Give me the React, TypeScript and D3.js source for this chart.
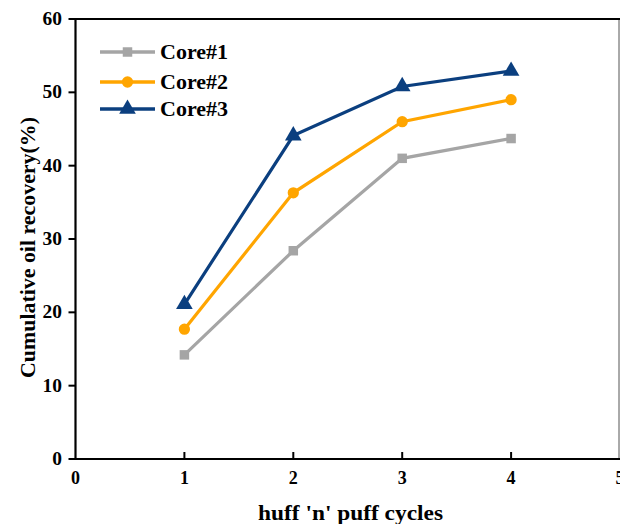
import React from "react";
import * as d3 from "d3";

const cycles = [1, 2, 3, 4];
const seriesNames = ["Core#1", "Core#2", "Core#3"];
const core1 = [14.2, 28.4, 41.0, 43.7];
const core2 = [17.7, 36.3, 46.0, 49.0];
const core3 = [21.1, 44.1, 50.8, 52.9];
const xTicks = [0, 1, 2, 3, 4, 5];
const yTicks = [0, 10, 20, 30, 40, 50, 60];

const colors = ["#a5a5a5", "#ffa500", "#0b3f7f"];
const symbols = [d3.symbolSquare, d3.symbolCircle, d3.symbolTriangle];
const symSizes = [90, 100, 120];

export default function App() {
  const W = 620, H = 524;
  const left = 75.5, right = 620, top = 19, bottom = 459;
  const x = d3.scaleLinear().domain([0, 5]).range([left, right]);
  const y = d3.scaleLinear().domain([0, 60]).range([bottom, top]);
  const data = [core1, core2, core3];
  const line = d3
    .line<number>()
    .x((_, i) => x(cycles[i]))
    .y((d) => y(d));
  const font = "'Liberation Serif', 'Times New Roman', serif";
  return (
    <svg
      width={W}
      height={H}
      style={{ position: "absolute", left: 0, top: 0, background: "#fff" }}
      fontFamily={font}
    >
      {/* frame */}
      <line x1={right - 1} x2={right - 1} y1={top} y2={bottom} stroke="#555" strokeWidth={1} />
      <line x1={left} x2={right} y1={top} y2={top} stroke="#000" strokeWidth={2.2} />
      <line x1={left} x2={left} y1={top - 1} y2={bottom + 1} stroke="#000" strokeWidth={2.2} />
      <line x1={left} x2={right} y1={bottom} y2={bottom} stroke="#000" strokeWidth={2.2} />
      {yTicks.map((t) => (
        <g key={"y" + t}>
          <line x1={left - 7} x2={left} y1={y(t)} y2={y(t)} stroke="#000" strokeWidth={2} />
          <text
            x={62}
            y={y(t) + 6}
            textAnchor="end"
            fontSize={18}
            fontWeight="bold"
            transform={`translate(${62},0) scale(1.08,1) translate(${-62},0)`}
          >
            {t}
          </text>
        </g>
      ))}
      {xTicks.map((t) => (
        <g key={"x" + t}>
          {t > 0 && t < 5 && (
            <line x1={x(t)} x2={x(t)} y1={bottom} y2={bottom - 7} stroke="#000" strokeWidth={2} />
          )}
          <text
            x={x(t)}
            y={484}
            textAnchor="middle"
            fontSize={18}
            fontWeight="bold"
          >
            {t}
          </text>
        </g>
      ))}
      {data.map((s, si) => (
        <g key={"s" + si}>
          <path d={line(s) || ""} fill="none" stroke={colors[si]} strokeWidth={3.2} />
          {s.map((v, i) => (
            <path
              key={i}
              d={d3.symbol().type(symbols[si]).size(symSizes[si])() || ""}
              transform={`translate(${x(cycles[i])},${y(v)})`}
              fill={colors[si]}
            />
          ))}
        </g>
      ))}
      {seriesNames.map((n, i) => {
        const ly = [52, 82, 109][i];
        return (
          <g key={"l" + i}>
            <line x1={100} x2={155} y1={ly} y2={ly} stroke={colors[i]} strokeWidth={3.5} />
            <path
              d={d3.symbol().type(symbols[i]).size(symSizes[i])() || ""}
              transform={`translate(127.5,${ly})`}
              fill={colors[i]}
            />
            <text
              x={160}
              y={ly + 7}
              fontSize={20}
              fontWeight="bold"
              textLength={68}
              lengthAdjust="spacingAndGlyphs"
            >
              {n}
            </text>
          </g>
        );
      })}
      <text
        transform={`translate(35,247.5) rotate(-90)`}
        textAnchor="middle"
        fontSize={21}
        fontWeight="bold"
        textLength={261}
        lengthAdjust="spacingAndGlyphs"
      >
        Cumulative oil recovery(%)
      </text>
      <text
        x={350.5}
        y={520}
        textAnchor="middle"
        fontSize={20}
        fontWeight="bold"
        textLength={185}
        lengthAdjust="spacingAndGlyphs"
      >
        huff 'n' puff cycles
      </text>
    </svg>
  );
}
